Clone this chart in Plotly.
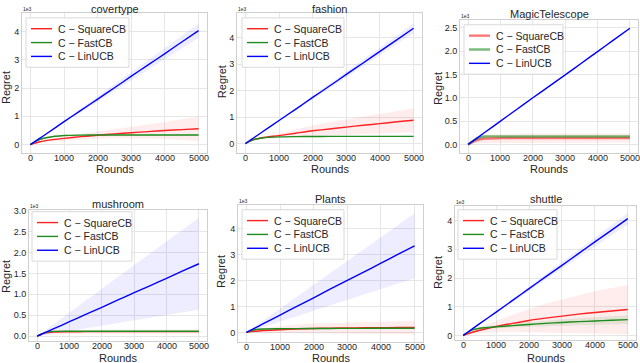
import plotly.graph_objects as go

W, H = 640, 363

ROUNDS = [0, 100, 250, 500, 1000, 1500, 2000, 2500, 3000, 3500, 4000, 4500, 5000]
X_TICKS = [0, 1000, 2000, 3000, 4000, 5000]

DATASETS = ["covertype", "fashion", "MagicTelescope", "mushroom", "Plants", "shuttle"]
ALGOS = ["C − SquareCB", "C − FastCB", "C − LinUCB"]

# Regret values in units of 1e3
COVERTYPE_SQUARECB = [0, 0.04, 0.09, 0.15, 0.22, 0.28, 0.33, 0.38, 0.42, 0.46, 0.50, 0.53, 0.56]
COVERTYPE_SQUARECB_CI = [0, 0.02, 0.03, 0.05, 0.08, 0.10, 0.12, 0.16, 0.20, 0.25, 0.30, 0.36, 0.43]
COVERTYPE_FASTCB = [0, 0.08, 0.17, 0.25, 0.32, 0.335, 0.34, 0.34, 0.34, 0.34, 0.34, 0.34, 0.34]
COVERTYPE_FASTCB_CI = [0, 0.01, 0.015, 0.02, 0.02, 0.02, 0.02, 0.02, 0.02, 0.02, 0.02, 0.02, 0.02]
COVERTYPE_LINUCB = [0, 0.08, 0.20, 0.40, 0.81, 1.21, 1.61, 2.01, 2.42, 2.82, 3.22, 3.63, 4.03]
COVERTYPE_LINUCB_CI = [0, 0.005, 0.012, 0.025, 0.05, 0.075, 0.10, 0.125, 0.15, 0.175, 0.20, 0.225, 0.25]

FASHION_SQUARECB = [0, 0.07, 0.15, 0.22, 0.30, 0.39, 0.48, 0.55, 0.62, 0.69, 0.75, 0.82, 0.88]
FASHION_SQUARECB_CI = [0, 0.01, 0.02, 0.04, 0.08, 0.14, 0.20, 0.25, 0.29, 0.33, 0.37, 0.41, 0.45]
FASHION_FASTCB = [0, 0.07, 0.15, 0.21, 0.25, 0.26, 0.265, 0.27, 0.27, 0.27, 0.27, 0.27, 0.27]
FASHION_FASTCB_CI = [0, 0.01, 0.01, 0.01, 0.01, 0.01, 0.01, 0.01, 0.01, 0.01, 0.01, 0.01, 0.01]
FASHION_LINUCB = [0, 0.087, 0.22, 0.435, 0.87, 1.30, 1.74, 2.17, 2.61, 3.04, 3.48, 3.91, 4.35]
FASHION_LINUCB_CI = [0, 0.004, 0.009, 0.018, 0.036, 0.054, 0.072, 0.09, 0.108, 0.126, 0.144, 0.162, 0.18]

MAGIC_SQUARECB = [0, 0.04, 0.09, 0.125, 0.135, 0.14, 0.14, 0.14, 0.14, 0.14, 0.14, 0.14, 0.14]
MAGIC_SQUARECB_CI = [0, 0.03, 0.06, 0.08, 0.09, 0.1, 0.1, 0.1, 0.1, 0.1, 0.1, 0.1, 0.1]
MAGIC_FASTCB = [0, 0.05, 0.12, 0.17, 0.172, 0.172, 0.172, 0.172, 0.172, 0.172, 0.172, 0.172, 0.172]
MAGIC_FASTCB_CI = [0, 0.005, 0.005, 0.005, 0.005, 0.005, 0.005, 0.005, 0.005, 0.005, 0.005, 0.005, 0.005]
MAGIC_LINUCB = [0, 0.05, 0.125, 0.25, 0.50, 0.75, 1.00, 1.245, 1.49, 1.74, 1.99, 2.24, 2.49]
MAGIC_LINUCB_CI = [0, 0.001, 0.002, 0.003, 0.005, 0.007, 0.009, 0.011, 0.013, 0.015, 0.017, 0.019, 0.02]

MUSHROOM_SQUARECB = [0, 0.035, 0.08, 0.10, 0.105, 0.11, 0.11, 0.11, 0.11, 0.11, 0.11, 0.11, 0.11]
MUSHROOM_SQUARECB_CI = [0, 0.02, 0.04, 0.05, 0.05, 0.05, 0.05, 0.05, 0.05, 0.05, 0.05, 0.05, 0.05]
MUSHROOM_FASTCB = [0, 0.04, 0.09, 0.115, 0.12, 0.12, 0.12, 0.12, 0.12, 0.12, 0.12, 0.12, 0.12]
MUSHROOM_FASTCB_CI = [0, 0.005, 0.01, 0.01, 0.01, 0.01, 0.01, 0.01, 0.01, 0.01, 0.01, 0.01, 0.01]
MUSHROOM_LINUCB = [0, 0.035, 0.087, 0.173, 0.346, 0.52, 0.69, 0.865, 1.04, 1.21, 1.38, 1.56, 1.73]
MUSHROOM_LINUCB_CI = [0, 0.022, 0.055, 0.11, 0.22, 0.33, 0.44, 0.55, 0.66, 0.77, 0.88, 0.99, 1.10]

PLANTS_SQUARECB = [0, 0.02, 0.04, 0.07, 0.10, 0.13, 0.15, 0.16, 0.17, 0.175, 0.18, 0.185, 0.19]
PLANTS_SQUARECB_CI = [0, 0.03, 0.06, 0.10, 0.14, 0.17, 0.19, 0.20, 0.22, 0.23, 0.24, 0.25, 0.26]
PLANTS_FASTCB = [0, 0.05, 0.10, 0.13, 0.14, 0.145, 0.15, 0.15, 0.155, 0.155, 0.16, 0.16, 0.16]
PLANTS_FASTCB_CI = [0, 0.01, 0.015, 0.02, 0.02, 0.02, 0.02, 0.02, 0.02, 0.02, 0.02, 0.02, 0.02]
PLANTS_LINUCB = [0, 0.067, 0.167, 0.333, 0.666, 1.00, 1.33, 1.67, 2.00, 2.33, 2.66, 3.00, 3.33]
PLANTS_LINUCB_CI = [0, 0.025, 0.0625, 0.125, 0.25, 0.375, 0.50, 0.625, 0.75, 0.875, 1.00, 1.125, 1.25]

SHUTTLE_SQUARECB = [0, 0.04, 0.10, 0.18, 0.31, 0.42, 0.52, 0.60, 0.67, 0.74, 0.80, 0.85, 0.90]
SHUTTLE_SQUARECB_CI = [0, 0.02, 0.05, 0.10, 0.20, 0.30, 0.40, 0.50, 0.58, 0.66, 0.74, 0.80, 0.86]
SHUTTLE_FASTCB = [0, 0.08, 0.18, 0.25, 0.30, 0.34, 0.38, 0.42, 0.45, 0.48, 0.50, 0.53, 0.55]
SHUTTLE_FASTCB_CI = [0, 0.01, 0.02, 0.03, 0.05, 0.07, 0.08, 0.10, 0.11, 0.12, 0.13, 0.14, 0.15]
SHUTTLE_LINUCB = [0, 0.081, 0.20, 0.41, 0.81, 1.22, 1.63, 2.04, 2.44, 2.85, 3.26, 3.66, 4.07]
SHUTTLE_LINUCB_CI = [0, 0.004, 0.01, 0.02, 0.04, 0.06, 0.08, 0.10, 0.12, 0.14, 0.16, 0.18, 0.20]

SERIES = {
    "covertype": [(COVERTYPE_SQUARECB, COVERTYPE_SQUARECB_CI), (COVERTYPE_FASTCB, COVERTYPE_FASTCB_CI), (COVERTYPE_LINUCB, COVERTYPE_LINUCB_CI)],
    "fashion": [(FASHION_SQUARECB, FASHION_SQUARECB_CI), (FASHION_FASTCB, FASHION_FASTCB_CI), (FASHION_LINUCB, FASHION_LINUCB_CI)],
    "MagicTelescope": [(MAGIC_SQUARECB, MAGIC_SQUARECB_CI), (MAGIC_FASTCB, MAGIC_FASTCB_CI), (MAGIC_LINUCB, MAGIC_LINUCB_CI)],
    "mushroom": [(MUSHROOM_SQUARECB, MUSHROOM_SQUARECB_CI), (MUSHROOM_FASTCB, MUSHROOM_FASTCB_CI), (MUSHROOM_LINUCB, MUSHROOM_LINUCB_CI)],
    "Plants": [(PLANTS_SQUARECB, PLANTS_SQUARECB_CI), (PLANTS_FASTCB, PLANTS_FASTCB_CI), (PLANTS_LINUCB, PLANTS_LINUCB_CI)],
    "shuttle": [(SHUTTLE_SQUARECB, SHUTTLE_SQUARECB_CI), (SHUTTLE_FASTCB, SHUTTLE_FASTCB_CI), (SHUTTLE_LINUCB, SHUTTLE_LINUCB_CI)],
}

Y_TICKS = {
    "covertype": ([0, 1, 2, 3, 4], "d"),
    "fashion": ([0, 1, 2, 3, 4], "d"),
    "MagicTelescope": ([0, 0.5, 1.0, 1.5, 2.0, 2.5], ".1f"),
    "mushroom": ([0, 0.5, 1.0, 1.5, 2.0, 2.5, 3.0], ".1f"),
    "Plants": ([0, 1, 2, 3, 4], "d"),
    "shuttle": ([0, 1, 2, 3, 4], "d"),
}
Y_RANGES = {
    "covertype": [-0.31, 4.66],
    "fashion": [-0.37, 4.93],
    "MagicTelescope": [-0.19, 2.67],
    "mushroom": [-0.12, 3.02],
    "Plants": [-0.38, 4.91],
    "shuttle": [-0.17, 4.52],
}

# layout in pixels: (left, right, top, bottom)
FRAMES = {
    "covertype": (22, 207, 9, 151),
    "fashion": (237, 422, 9, 151),
    "MagicTelescope": (460, 638, 16, 151),
    "mushroom": (29, 207, 208, 341),
    "Plants": (238, 423, 203, 342),
    "shuttle": (455, 636, 204, 340),
}
# legend box: (left, top, width)
LEGEND_BOX = {
    "covertype": (26, 14, 103),
    "fashion": (242, 14, 102),
    "MagicTelescope": (464, 21, 99),
    "mushroom": (32, 210, 100),
    "Plants": (242, 208, 102),
    "shuttle": (458, 208, 99),
}
TITLE_Y = {"covertype": 5, "fashion": 5, "MagicTelescope": 10, "mushroom": 202, "Plants": 197, "shuttle": 197}
YLABEL_POS = {"covertype": (6, 85), "fashion": (222, 79), "MagicTelescope": (438, 86),
              "mushroom": (6, 276), "Plants": (221, 271), "shuttle": (438, 272)}
XLABEL_Y = {"covertype": 167, "fashion": 167, "MagicTelescope": 167, "mushroom": 357.5, "Plants": 357.5, "shuttle": 357.5}

LINE_COLORS = ["#ff2020", "#1e8c1e", "#0000ff"]
BAND_COLORS = ["rgba(255,0,0,0.07)", "rgba(0,128,0,0.10)", "rgba(0,0,255,0.07)"]

TEXT = "#262626"
FONT = "Liberation Sans, Arial, sans-serif"

fig = go.Figure()
annotations = []
shapes = []
layout = {}


def px(xp):
    return xp / W


def py(yp):
    return 1 - yp / H


for i, name in enumerate(DATASETS):
    k = "" if i == 0 else str(i + 1)
    xa, ya = "x" + k, "y" + k
    l, r, t, b = FRAMES[name]
    for j, (mean, ci) in enumerate(SERIES[name]):
        upper = [m + c for m, c in zip(mean, ci)]
        lower = [m - c for m, c in zip(mean, ci)]
        fig.add_trace(go.Scatter(
            x=ROUNDS + ROUNDS[::-1], y=upper + lower[::-1], fill="toself",
            fillcolor=BAND_COLORS[j], line=dict(width=0), mode="lines",
            hoverinfo="skip", showlegend=False, xaxis=xa, yaxis=ya))
    styles = []
    for j, (mean, ci) in enumerate(SERIES[name]):
        width = 1.4
        opacity = 1.0
        if name == "MagicTelescope" and j < 2:
            width = 2.4
            opacity = 0.6
        styles.append((width, opacity))
        fig.add_trace(go.Scatter(
            x=ROUNDS, y=mean, mode="lines", name=ALGOS[j],
            line=dict(color=LINE_COLORS[j], width=width, shape="spline", smoothing=0.6),
            opacity=opacity, xaxis=xa, yaxis=ya, showlegend=False))

    ticks, fmt = Y_TICKS[name]
    axis_common = dict(
        showgrid=True, gridcolor="#e6e6e6", gridwidth=1, zeroline=False,
        showline=True, linecolor="#cfcfcf", linewidth=1, mirror=True,
        ticks="", tickfont=dict(size=9, color=TEXT, family=FONT),
    )
    layout["xaxis" + k] = dict(
        axis_common, domain=[px(l), px(r)], range=[-250, 5250],
        tickvals=X_TICKS, showticklabels=False, anchor=ya)
    layout["yaxis" + k] = dict(
        axis_common, domain=[py(b), py(t)], range=Y_RANGES[name],
        tickvals=ticks, tickformat=fmt, anchor=xa)

    # x tick labels placed on the x axis scale, close to the frame
    for tv in X_TICKS:
        annotations.append(dict(text=str(tv), x=tv, xref=xa, y=py(b + 4.5), yref="paper",
                                showarrow=False, xanchor="center", yanchor="middle", borderpad=0,
                                font=dict(size=9, color=TEXT, family=FONT)))

    # legend box
    bl, bt, bw = LEGEND_BOX[name]
    bh = 50
    shapes.append(dict(type="rect", xref="paper", yref="paper",
                       x0=px(bl), x1=px(bl + bw), y0=py(bt + bh), y1=py(bt),
                       fillcolor="rgba(255,255,255,0.85)", line=dict(color="#d9d9d9", width=1)))
    for j, label in enumerate(ALGOS):
        yy = bt + 11 + 14 * j
        width, opacity = styles[j]
        shapes.append(dict(type="line", xref="paper", yref="paper",
                           x0=px(bl + 5), x1=px(bl + 26), y0=py(yy), y1=py(yy),
                           line=dict(color=LINE_COLORS[j], width=width), opacity=opacity))
        annotations.append(dict(text=label, x=px(bl + 31), y=py(yy), xref="paper", yref="paper",
                                showarrow=False, xanchor="left", yanchor="middle", borderpad=0,
                                font=dict(size=10.5, color=TEXT, family=FONT)))

    cx = px((l + r) / 2)
    annotations.append(dict(text=name, x=cx, y=py(TITLE_Y[name]), xref="paper", yref="paper",
                            showarrow=False, xanchor="center", yanchor="middle", borderpad=0,
                            font=dict(size=11, color=TEXT, family=FONT)))
    annotations.append(dict(text="Rounds", x=cx, y=py(XLABEL_Y[name]), xref="paper", yref="paper",
                            showarrow=False, xanchor="center", yanchor="middle", borderpad=0,
                            font=dict(size=11, color=TEXT, family=FONT)))
    rx, ry = YLABEL_POS[name]
    annotations.append(dict(text="Regret", x=px(rx), y=py(ry), xref="paper", yref="paper",
                            showarrow=False, xanchor="center", yanchor="middle", textangle=-90, borderpad=0,
                            font=dict(size=11, color=TEXT, family=FONT)))
    annotations.append(dict(text="1e3", x=px(l), y=py(t), xref="paper", yref="paper",
                            showarrow=False, xanchor="left", yanchor="bottom", borderpad=0,
                            font=dict(size=5, color=TEXT, family=FONT)))

fig.update_layout(
    width=W, height=H, margin=dict(l=0, r=0, t=0, b=0),
    paper_bgcolor="white", plot_bgcolor="white", showlegend=False,
    annotations=annotations, shapes=shapes, **layout)

fig.write_html("out.html", config={"displayModeBar": False},
               post_script="document.body.style.margin='0';document.body.style.overflow='hidden';")
